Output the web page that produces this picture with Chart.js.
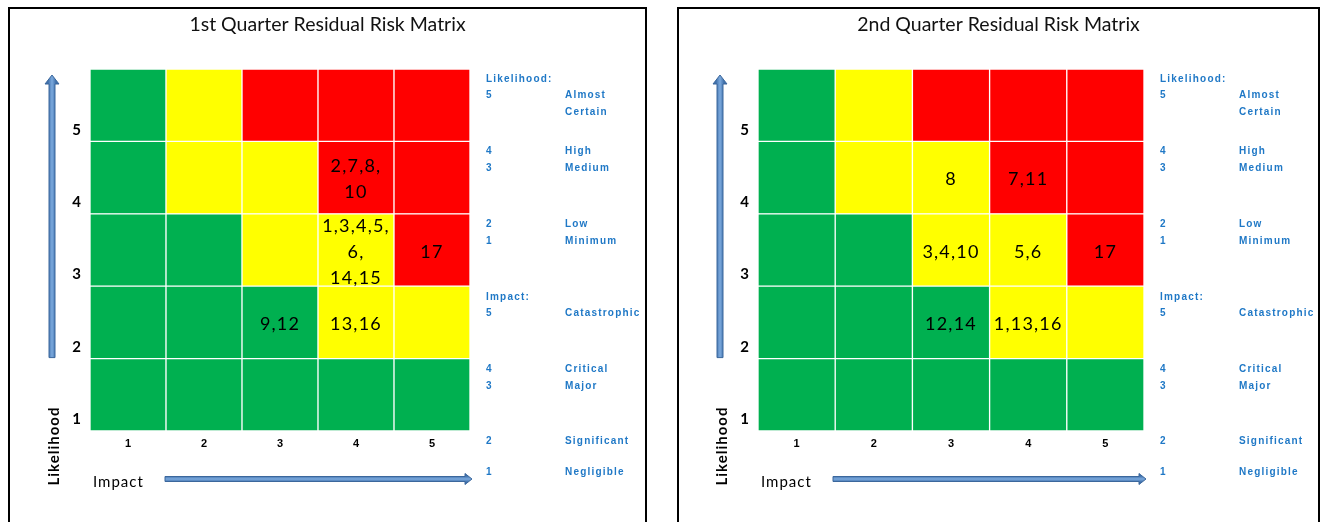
<!DOCTYPE html>
<html>
<head>
<meta charset="utf-8">
<script src="https://cdn.jsdelivr.net/npm/chart.js@4.4.1/dist/chart.umd.min.js"></script>
<style>
  html, body { margin: 0; padding: 0; background: #fff; }
  body { width: 1327px; height: 522px; position: relative; overflow: hidden; }
  .panel { position: absolute; top: 7px; height: 540px; border: 2px solid #000; box-sizing: border-box; }
  .panel canvas { display: block; }
</style>
</head>
<body>
<div class="panel" style="left:8px;width:639px"><canvas id="q1" width="635" height="513"></canvas></div>
<div class="panel" style="left:677px;width:643px"><canvas id="q2" width="639" height="513"></canvas></div>
<script>
const impactLabels = ['1', '2', '3', '4', '5']
const likelihoodLabels = ['1', '2', '3', '4', '5']

const impactNames = ['Negligible', 'Significant', 'Major', 'Critical', 'Catastrophic']
const likelihoodNames = ['Minimum', 'Low', 'Medium', 'High', 'Almost\nCertain']

// rows go likelihood 1 -> 5, columns impact 1 -> 5
const ratings = [
  ['G', 'G', 'G', 'G', 'G'],
  ['G', 'G', 'G', 'Y', 'Y'],
  ['G', 'G', 'Y', 'Y', 'R'],
  ['G', 'Y', 'Y', 'R', 'R'],
  ['G', 'Y', 'R', 'R', 'R'],
]

const q1RiskIds = [
  ['', '', '', '', ''],
  ['', '', '9,12', '13,16', ''],
  ['', '', '', '1,3,4,5,\n6,\n14,15', '17'],
  ['', '', '', '2,7,8,\n10', ''],
  ['', '', '', '', ''],
]

const q2RiskIds = [
  ['', '', '', '', ''],
  ['', '', '12,14', '1,13,16', ''],
  ['', '', '3,4,10', '5,6', '17'],
  ['', '', '8', '7,11', ''],
  ['', '', '', '', ''],
]

const ratingColors = {G: '#00B050', Y: '#FFFF00', R: '#FF0000'}
const legendBlue = '#1F78C6'

function drawUpArrow(ctx, x, yTop, yBottom) {
  let grad = ctx.createLinearGradient(x - 4, 0, x + 4, 0)
  grad.addColorStop(0, '#3E6FAA')
  grad.addColorStop(0.5, '#7BA9DD')
  grad.addColorStop(1, '#3E6FAA')
  ctx.beginPath()
  ctx.moveTo(x - 3, yBottom)
  ctx.lineTo(x - 3, yTop + 9)
  ctx.lineTo(x - 7, yTop + 9)
  ctx.lineTo(x, yTop)
  ctx.lineTo(x + 7, yTop + 9)
  ctx.lineTo(x + 3, yTop + 9)
  ctx.lineTo(x + 3, yBottom)
  ctx.closePath()
  ctx.fillStyle = grad
  ctx.fill()
  ctx.strokeStyle = '#3B679C'
  ctx.lineWidth = 1
  ctx.stroke()
}

function drawRightArrow(ctx, xLeft, xRight, y) {
  let grad = ctx.createLinearGradient(0, y - 3, 0, y + 3)
  grad.addColorStop(0, '#3E6FAA')
  grad.addColorStop(0.5, '#7BA9DD')
  grad.addColorStop(1, '#3E6FAA')
  ctx.beginPath()
  ctx.moveTo(xLeft, y - 2.5)
  ctx.lineTo(xRight - 7, y - 2.5)
  ctx.lineTo(xRight - 7, y - 5.5)
  ctx.lineTo(xRight, y)
  ctx.lineTo(xRight - 7, y + 5.5)
  ctx.lineTo(xRight - 7, y + 2.5)
  ctx.lineTo(xLeft, y + 2.5)
  ctx.closePath()
  ctx.fillStyle = grad
  ctx.fill()
  ctx.strokeStyle = '#3B679C'
  ctx.lineWidth = 1
  ctx.stroke()
}

// text lines of the key on the right, top to bottom
function legendLines() {
  let lines = [['Likelihood:', '']]
  for (let i = likelihoodLabels.length - 1; i >= 0; i--) {
    likelihoodNames[i].split('\n').forEach((part, k) => {
      lines.push([k === 0 ? likelihoodLabels[i] : '', part])
    })
  }
  lines.push(['Impact:', ''])
  for (let i = impactLabels.length - 1; i >= 0; i--) {
    lines.push([impactLabels[i], impactNames[i]])
  }
  return lines
}
const legendOffsets = [10, 26, 43, 82, 99, 155, 172, 228, 244, 300, 317, 372, 403]

const riskPlugin = {
  id: 'riskExtras',
  afterDatasetsDraw(chart, args, opts) {
    let ctx = chart.ctx
    ctx.save()
    ctx.font = '18px Lato'
    ctx.letterSpacing = '1.2px'
    ctx.fillStyle = '#000'
    ctx.textAlign = 'center'
    ctx.textBaseline = 'middle'
    opts.riskIds.forEach((row, li) => {
      let meta = chart.getDatasetMeta(li)
      row.forEach((txt, ii) => {
        if (!txt) return
        let bar = meta.data[ii].getProps(['x', 'y', 'base', 'width'], true)
        let top = Math.min(bar.y, bar.base)
        let h = Math.abs(bar.base - bar.y)
        ctx.save()
        ctx.beginPath()
        ctx.rect(bar.x - bar.width / 2, top, bar.width, h)
        ctx.clip()
        let parts = txt.split('\n')
        let lh = 26
        let y0 = top + h / 2 + 2 - (parts.length - 1) * lh / 2
        parts.forEach((p, k) => ctx.fillText(p, bar.x, y0 + k * lh))
        ctx.restore()
      })
    })
    ctx.restore()
  },
  afterDraw(chart) {
    let ctx = chart.ctx
    let area = chart.chartArea
    let yScale = chart.scales.y
    ctx.save()
    drawUpArrow(ctx, area.left - 38, area.top + 6, yScale.getPixelForValue(1) - 1)
    drawRightArrow(ctx, area.left + 75, area.right + 2, area.bottom + 48)

    ctx.fillStyle = '#000'
    ctx.font = '15px Lato'
    ctx.letterSpacing = '1px'
    ctx.textBaseline = 'middle'
    ctx.textAlign = 'left'
    ctx.fillText('Impact', area.left + 3, area.bottom + 51)

    ctx.save()
    ctx.translate(area.left - 36, area.bottom + 15)
    ctx.rotate(-Math.PI / 2)
    ctx.textAlign = 'center'
    ctx.font = 'bold 15px Lato'
    ctx.fillText('Likelihood', 0, 0)
    ctx.restore()

    ctx.font = 'bold 10px "Liberation Sans"'
    ctx.letterSpacing = '1.2px'
    ctx.fillStyle = legendBlue
    legendLines().forEach((line, k) => {
      let y = area.top + legendOffsets[k]
      ctx.fillText(line[0], area.right + 16, y)
      if (line[1]) ctx.fillText(line[1], area.right + 95, y)
    })
    ctx.restore()
  },
}

function makeMatrix(canvasId, title, riskIds, yWidth, keyWidth) {
  let datasets = likelihoodLabels.map((l, li) => ({
    label: 'Likelihood ' + l,
    data: impactLabels.map(() => 1),
    backgroundColor: ratings[li].map((r) => ratingColors[r]),
    borderColor: '#ffffff',
    borderWidth: 1,
    borderSkipped: false,
    barPercentage: 1,
    categoryPercentage: 1,
  }))

  new Chart(document.getElementById(canvasId), {
    type: 'bar',
    data: {labels: impactLabels, datasets: datasets},
    plugins: [riskPlugin],
    options: {
      responsive: false,
      animation: false,
      layout: {padding: 0},
      plugins: {
        legend: {display: false},
        tooltip: {enabled: false},
        title: {
          display: true,
          text: title,
          color: '#111',
          font: {family: 'Lato', size: 19.5, weight: 'normal'},
          padding: {top: 4, bottom: 32.6},
        },
        riskExtras: {riskIds: riskIds},
      },
      scales: {
        x: {
          stacked: true,
          grid: {display: false, drawTicks: false},
          border: {display: false},
          ticks: {
            color: '#000',
            padding: 6,
            font: {family: 'Liberation Sans', size: 11, weight: 'bold'},
          },
          afterFit: (s) => { s.height = 91 },
        },
        y: {
          stacked: true,
          min: 0,
          max: 5,
          grid: {display: false, drawTicks: false},
          border: {display: false},
          afterBuildTicks: (s) => {
            s.ticks = likelihoodLabels.map((l, i) => ({value: i + 0.16}))
          },
          ticks: {
            color: '#000',
            padding: 9,
            font: {family: 'Lato', size: 15, weight: 'bold'},
            callback: (v, i) => likelihoodLabels[i],
          },
          afterFit: (s) => { s.width = yWidth },
        },
        // empty right axis that reserves room for the key
        key: {
          type: 'linear',
          position: 'right',
          min: 0,
          max: 5,
          grid: {display: false, drawTicks: false},
          border: {display: false},
          ticks: {display: false},
          afterFit: (s) => { s.width = keyWidth },
        },
      },
    },
  })
}

makeMatrix('q1', '1st Quarter Residual Risk Matrix', q1RiskIds, 80, 175)
makeMatrix('q2', '2nd Quarter Residual Risk Matrix', q2RiskIds, 79, 174)
</script>
</body>
</html>
